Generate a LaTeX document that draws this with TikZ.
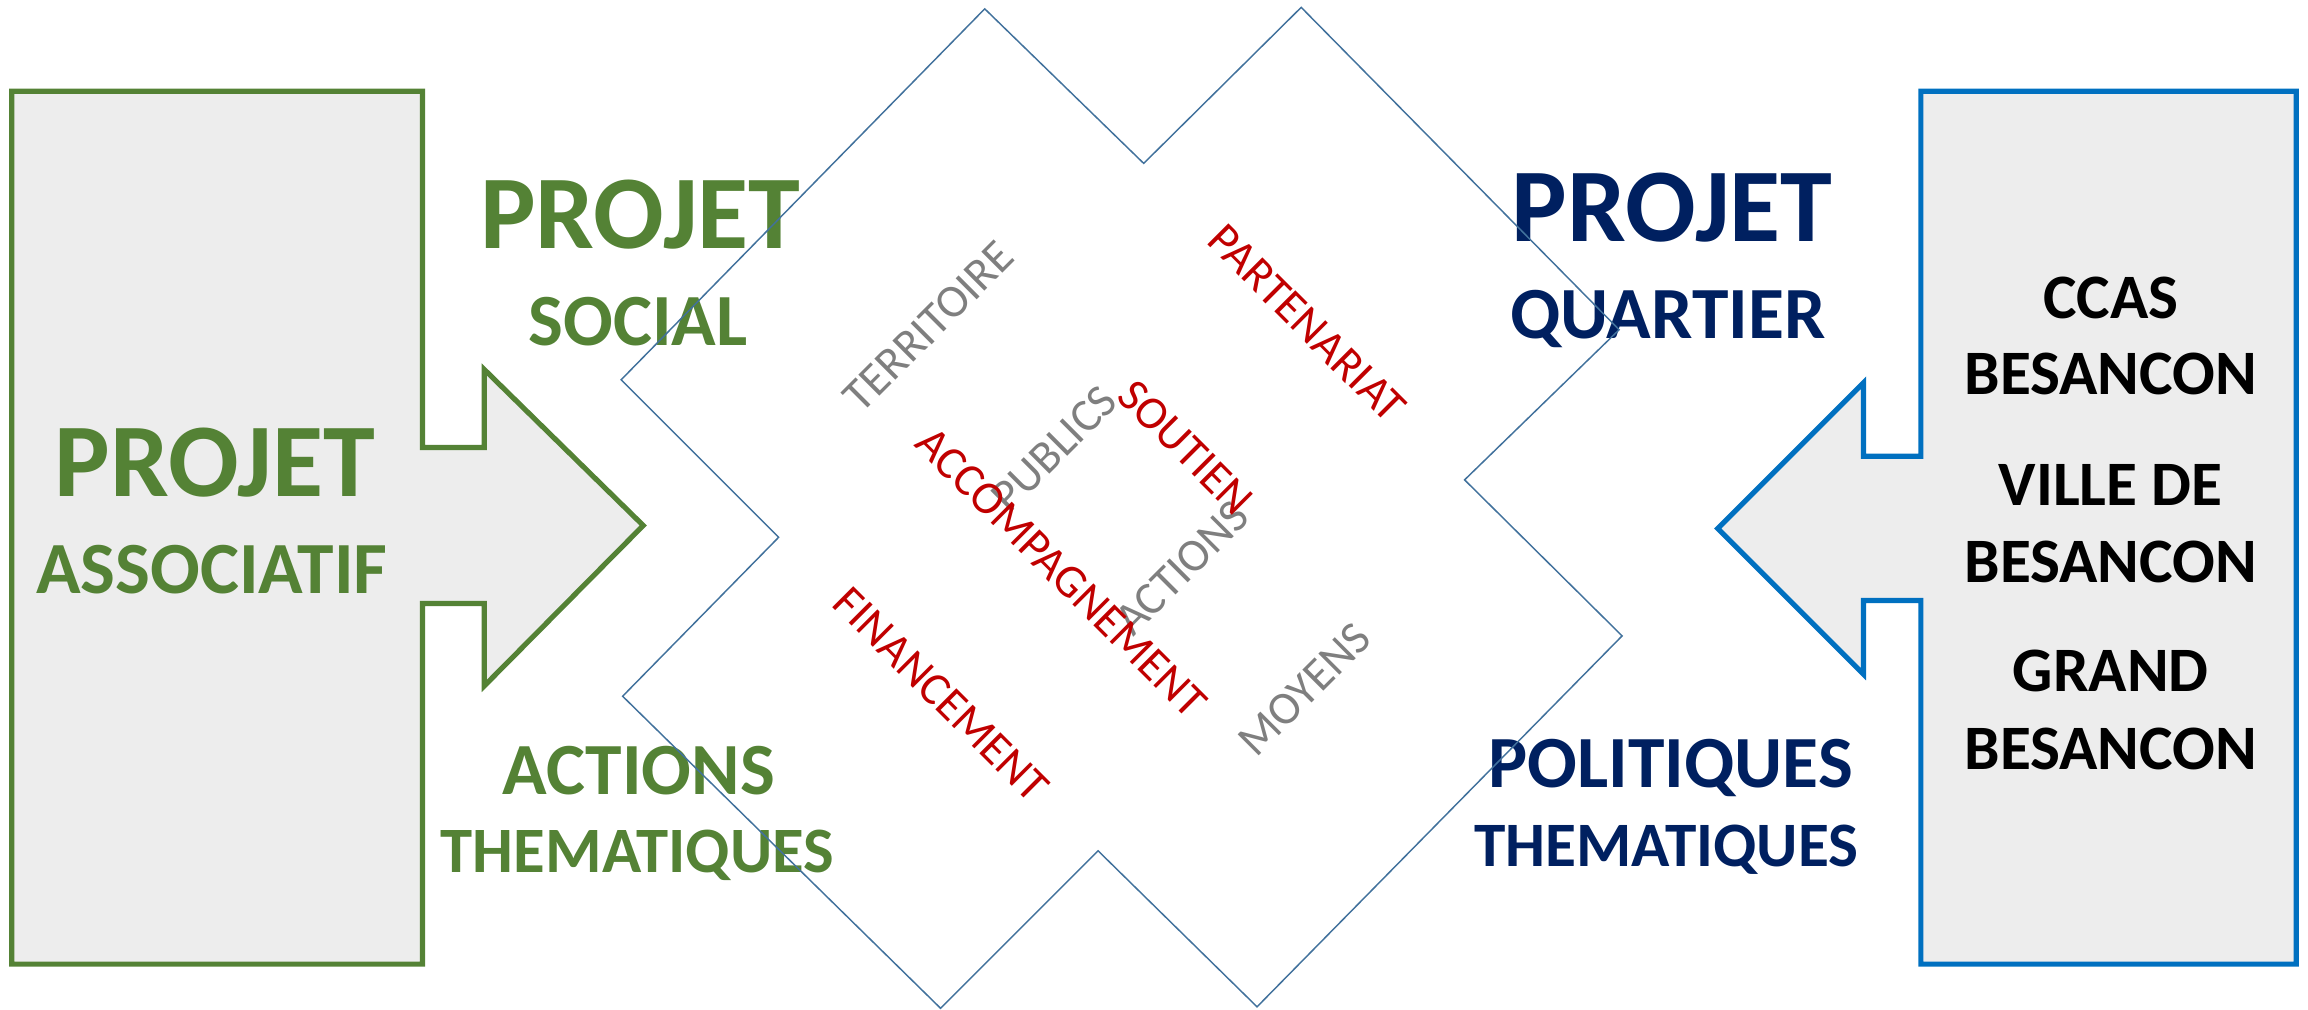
\documentclass[tikz,border=0pt]{standalone}
\usepackage{fontspec}
\setmainfont{Carlito}
\usepackage{tikz}

\definecolor{assocgreen}{HTML}{548235}
\definecolor{quartiernavy}{HTML}{002060}
\definecolor{villeblue}{HTML}{0070C0}
\definecolor{boxgray}{HTML}{EDEDED}
\definecolor{crossblue}{HTML}{41719C}
\definecolor{wordred}{HTML}{C00000}
\definecolor{wordgray}{HTML}{7F7F7F}

\begin{document}
\begin{tikzpicture}[x=1pt, y=-1pt,
        bigtitle/.style={font=\fontsize{71}{80}\selectfont\bfseries, anchor=base, inner sep=0pt},
        subtitle/.style={font=\fontsize{50}{60}\selectfont\bfseries, anchor=base, inner sep=0pt},
        smalltitle/.style={font=\fontsize{43}{50}\selectfont\bfseries, anchor=base, inner sep=0pt},
        graytag/.style={font=\fontsize{31.5}{38}\selectfont, text=wordgray, rotate=45, inner sep=0pt},
        redtag/.style={font=\fontsize{31.5}{38}\selectfont, text=wordred, rotate=-45, inner sep=0pt}]
        \useasboundingbox (0,0) rectangle (1568,686);

        % Left box with arrow
        \draw[assocgreen, line width=3.5pt, fill=boxgray] (8,62) -- (287,62) -- (287,304) -- (329,304) -- (329,251)
            -- (437,357) -- (329,466) -- (329,410) -- (287,410) -- (287,655) -- (8,655) -- cycle;
        \node[bigtitle, assocgreen] (assoc) at (146,337) {PROJET};
        \node[subtitle, assocgreen] (assocsub) at (144,403) {ASSOCIATIF};

        % Right box with arrow
        \draw[villeblue, line width=3.5pt, fill=boxgray] (1560,62) -- (1305,62) -- (1305,310) -- (1266,310) -- (1266,260)
            -- (1167,359) -- (1266,458) -- (1266,408) -- (1305,408) -- (1305,655) -- (1560,655) -- cycle;
        \node[smalltitle] (ccas) at (1434,216.6) {CCAS};
        \node[smalltitle] (ccasb) at (1434,268) {BESANCON};
        \node[smalltitle] (ville) at (1434,343.5) {VILLE DE};
        \node[smalltitle] (villeb) at (1434,396) {BESANCON};
        \node[smalltitle] (grand) at (1434,470) {GRAND};
        \node[smalltitle] (grandb) at (1434,523) {BESANCON};

        % Titles around the cross
        \node[bigtitle, assocgreen] (social) at (435,168.5) {PROJET};
        \node[subtitle, assocgreen] (socialsub) at (433.5,235) {SOCIAL};
        \node[subtitle, assocgreen] (actions) at (434,539.6) {ACTIONS};
        \node[smalltitle, assocgreen, font=\fontsize{44}{50}\selectfont\bfseries] (actionssub) at (433,593) {THEMATIQUES};

        \node[bigtitle, quartiernavy] (quartier) at (1136,164) {PROJET};
        \node[subtitle, quartiernavy] (quartiersub) at (1133,230) {QUARTIER};
        \node[subtitle, quartiernavy] (politiques) at (1135,535) {POLITIQUES};
        \node[smalltitle, quartiernavy] (politiquessub) at (1132,588.6) {THEMATIQUES};

        % Words inside the cross
        \node[graytag] (territoire) at (631,222) {TERRITOIRE};
        \node[graytag] (publics) at (716,305) {PUBLICS};
        \node[graytag] (actionsw) at (803,386) {ACTIONS};
        \node[graytag] (moyens) at (886.5,468.6) {MOYENS};
        \node[redtag] (partenariat) at (888,219.6) {PARTENARIAT};
        \node[redtag] (soutien) at (805.4,303.8) {SOUTIEN};
        \node[redtag] (accomp) at (721,389) {ACCOMPAGNEMENT};
        \node[redtag] (financement) at (639.4,472) {FINANCEMENT};

        % Cross outline
        \draw[crossblue, line width=1pt] (669,6) -- (777,111) -- (884,5) -- (1100,224) -- (995,326) -- (1102,432)
            -- (854,684) -- (746,578) -- (639,685) -- (423,473) -- (529,365) -- (422,258) -- cycle;
\end{tikzpicture}
\end{document}
